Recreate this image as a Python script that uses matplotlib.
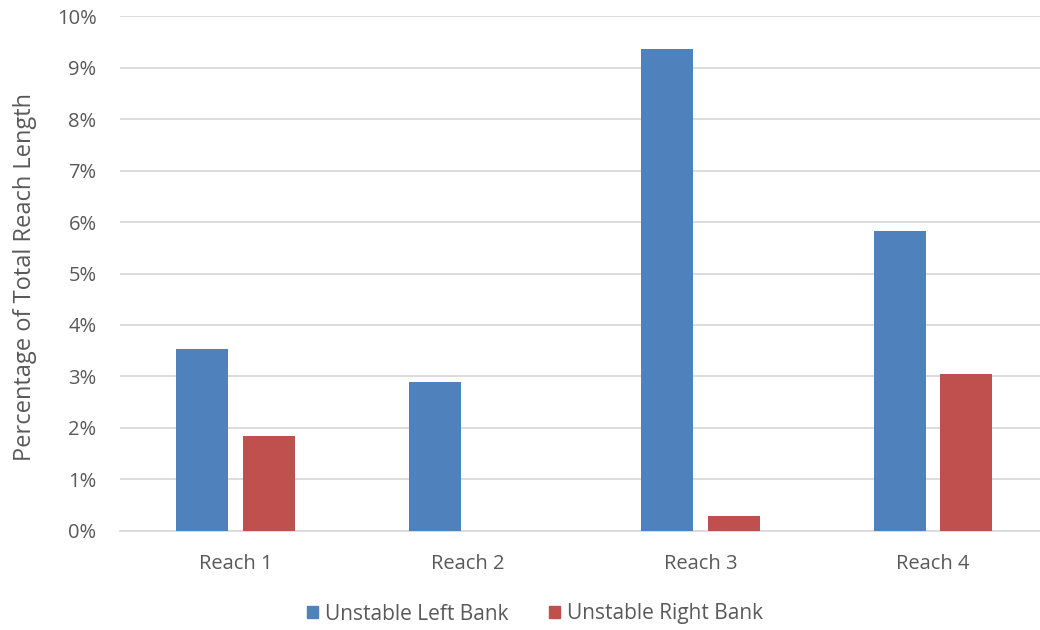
import matplotlib
matplotlib.use("Agg")
import matplotlib.pyplot as plt
import numpy as np
from matplotlib.ticker import FuncFormatter
from matplotlib.patches import Patch

categories = ["Reach 1", "Reach 2", "Reach 3", "Reach 4"]
left_bank = [3.54, 2.89, 9.37, 5.83]
right_bank = [1.84, 0.0, 0.28, 3.04]
series_names = ["Unstable Left Bank", "Unstable Right Bank"]
y_ticks = [0, 1, 2, 3, 4, 5, 6, 7, 8, 9, 10]

blue = "#4F81BD"
red = "#C0504D"
text_color = "#595959"
grid_color = "#D9D9D9"

plt.rcParams["font.family"] = ["Open Sans", "DejaVu Sans"]

fig = plt.figure(figsize=(10.4, 6.3), dpi=100)
W, H = 1040, 630
x0, x1 = 119.5, 1049.0
y0, y1 = 530.7, 16.3
ax = fig.add_axes([x0 / W, 1 - y0 / H, (x1 - x0) / W, (y0 - y1) / H])

x = np.arange(len(categories))
bw = 0.224
off = 0.143
ax.bar(x - off, left_bank, width=bw, color=blue, zorder=3)
ax.bar(x + off, right_bank, width=bw, color=red, zorder=3)

ax.set_xlim(-0.5, len(categories) - 0.5)
ax.set_ylim(0, 10)
ax.set_yticks(y_ticks)
ax.yaxis.set_major_formatter(FuncFormatter(lambda v, p: f"{int(v)}%"))
ax.set_xticks(x)
ax.set_xticklabels(categories)

ax.grid(axis="y", color=grid_color, linewidth=1.3, zorder=0)
ax.set_axisbelow(True)
for s in ["top", "right", "left"]:
    ax.spines[s].set_visible(False)
ax.spines["bottom"].set_color(grid_color)
ax.spines["bottom"].set_linewidth(1.3)
ax.tick_params(axis="both", length=0, colors=text_color, labelsize=14.5)
ax.tick_params(axis="y", pad=16.5)
ax.tick_params(axis="x", pad=17)

fig.text(25 / W, 1 - 277 / H, "Percentage of Total Reach Length", rotation=90,
         ha="center", va="center", color=text_color, fontsize=17)

handles = [Patch(color=blue), Patch(color=red)]
fig.legend(handles, series_names, loc="center", bbox_to_anchor=(535 / W, 1 - 614 / H),
           ncol=2, frameon=False, fontsize=15, labelcolor=text_color,
           handlelength=0.55, handleheight=0.55, handletextpad=0.35, columnspacing=1.9)

fig.savefig("out.png", dpi=100, facecolor="white")
